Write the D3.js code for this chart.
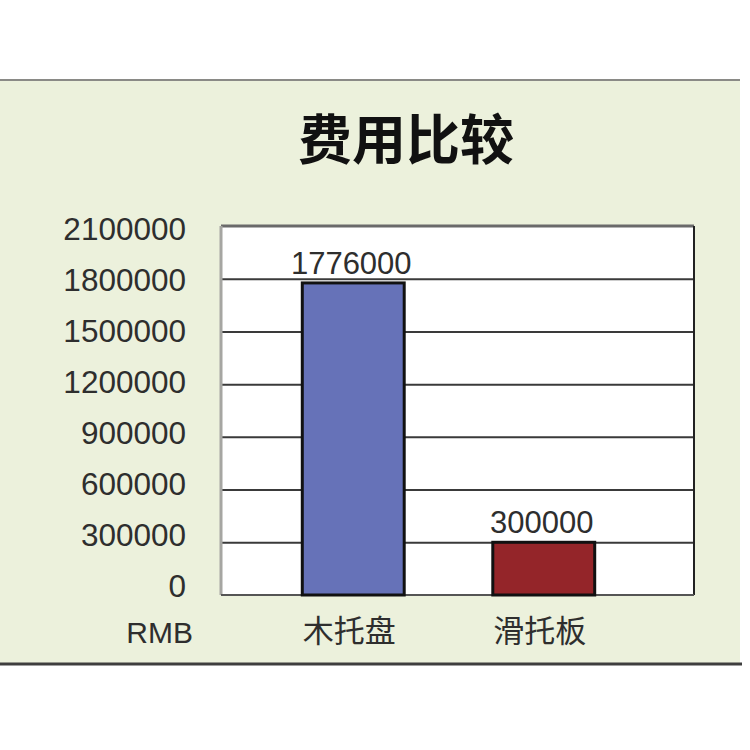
<!DOCTYPE html>
<html><head><meta charset="utf-8">
<script src="https://cdn.jsdelivr.net/npm/d3@7"></script>
<style>body{margin:0;background:#fff}svg{display:block}</style>
</head><body>
<script>
const title = "费用比较";
const categories = ["木托盘", "滑托板"];
const values = [1776000, 300000];
const tickValues = [0, 300000, 600000, 900000, 1200000, 1500000, 1800000, 2100000];
const unitLabel = "RMB";
const barColors = ["#6672b8", "#942529"];

const W = 750, H = 750;
const svg = d3.select("body").append("svg").attr("width", W).attr("height", H);
svg.append("rect").attr("width", W).attr("height", H).attr("fill", "#fff");

// panel
svg.append("rect").attr("x", 0).attr("y", 80).attr("width", 740).attr("height", 584).attr("fill", "#ecf1dc");
svg.append("line").attr("x1", 0).attr("x2", 740).attr("y1", 80).attr("y2", 80).attr("stroke", "#8a8a86").attr("stroke-width", 2);
svg.append("line").attr("x1", 0).attr("x2", 742).attr("y1", 664).attr("y2", 664).attr("stroke", "#3e3e3e").attr("stroke-width", 3);

const fontLatin = "'Liberation Sans', Arial, sans-serif";
const fontCJK = "'Noto Sans CJK SC', sans-serif";

svg.append("text").attr("x", 406).attr("y", 141).attr("dy", "0.35em")
  .attr("text-anchor", "middle").attr("font-family", fontCJK).attr("font-weight", "bold")
  .attr("font-size", 54).attr("fill", "#111").text(title);

const plot = {left: 221, right: 694, top: 226, bottom: 595};
const y = d3.scaleLinear().domain([0, 2100000]).range([plot.bottom, plot.top]);
const yLabel = d3.scaleLinear().domain([0, 2100000]).range([586, 229]);
const x = d3.scaleBand().domain(categories).range([258, 639]).paddingInner(0.465).paddingOuter(0.2325);

svg.append("rect").attr("x", plot.left).attr("y", plot.top)
  .attr("width", plot.right - plot.left).attr("height", plot.bottom - plot.top).attr("fill", "#fff");

// gridlines via axis
const grid = svg.append("g").attr("transform", `translate(${plot.left},0)`)
  .call(d3.axisRight(y).tickValues(tickValues.filter(v => v > 0 && v < 2100000)).tickSize(plot.right - plot.left).tickFormat(""));
grid.select(".domain").remove();
grid.selectAll(".tick line").attr("stroke", "#3a3a3a").attr("stroke-width", 2);

// plot border
svg.append("line").attr("x1", plot.left).attr("x2", plot.right).attr("y1", plot.top).attr("y2", plot.top).attr("stroke", "#6a6a6a").attr("stroke-width", 3);
svg.append("line").attr("x1", plot.right).attr("x2", plot.right).attr("y1", plot.top).attr("y2", plot.bottom).attr("stroke", "#222").attr("stroke-width", 2);
svg.append("line").attr("x1", plot.left).attr("x2", plot.left).attr("y1", plot.top).attr("y2", plot.bottom).attr("stroke", "#a6a6a2").attr("stroke-width", 3);
svg.append("line").attr("x1", plot.left).attr("x2", plot.right).attr("y1", plot.bottom).attr("y2", plot.bottom).attr("stroke", "#555").attr("stroke-width", 2);

// y tick labels
const yAxis = svg.append("g").attr("transform", "translate(186,0)")
  .call(d3.axisLeft(yLabel).tickValues(tickValues).tickSize(0).tickPadding(0).tickFormat(d => String(d)));
yAxis.select(".domain").remove();
yAxis.selectAll("text").attr("font-family", fontLatin).attr("font-size", 31.5).attr("fill", "#2e2e2e");

svg.append("text").attr("x", 193).attr("y", 632).attr("dy", "0.35em").attr("text-anchor", "end")
  .attr("font-family", fontLatin).attr("font-size", 30).attr("fill", "#2e2e2e").text(unitLabel);

// bars
svg.selectAll("rect.bar").data(values).join("rect").attr("class", "bar")
  .attr("x", (d, i) => x(categories[i]))
  .attr("y", d => y(d))
  .attr("width", x.bandwidth())
  .attr("height", d => y(0) - y(d))
  .attr("fill", (d, i) => barColors[i])
  .attr("stroke", "#111").attr("stroke-width", 3);

// value labels
svg.selectAll("text.val").data(values).join("text").attr("class", "val")
  .attr("x", (d, i) => x(categories[i]) + x.bandwidth() / 2 - 2)
  .attr("y", d => y(d) - 20).attr("dy", "0.35em").attr("text-anchor", "middle")
  .attr("font-family", fontLatin).attr("font-size", 31).attr("fill", "#2e2e2e").text(d => String(d));

// category labels
svg.selectAll("text.cat").data(categories).join("text").attr("class", "cat")
  .attr("x", d => x(d) + x.bandwidth() / 2 - 4)
  .attr("y", 631).attr("dy", "0.35em").attr("text-anchor", "middle")
  .attr("font-family", fontCJK).attr("font-size", 31).attr("fill", "#2e2e2e").text(d => d);
</script>
</body></html>
